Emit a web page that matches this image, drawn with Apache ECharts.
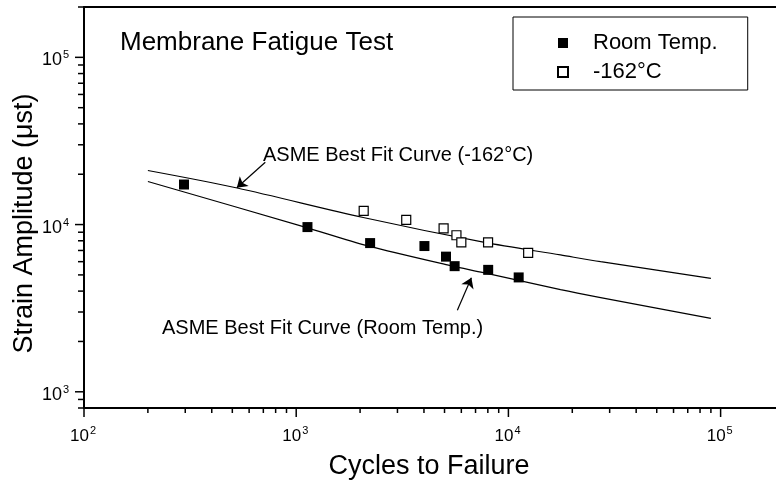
<!DOCTYPE html>
<html><head><meta charset="utf-8">
<script src="https://cdn.jsdelivr.net/npm/echarts@6/dist/echarts.min.js"></script>
<style>html,body{margin:0;padding:0;background:#fff}#c{width:776px;height:484px}</style>
</head><body><div id="c"></div>
<script>
// ---- data ----
const roomCycles = [296, 1130, 2230, 4020, 5080, 5580, 8030, 11180];
const roomStrain = [17360, 9660, 7750, 7440, 6430, 5640, 5360, 4830];
const coldCycles = [2080, 3300, 4950, 5690, 6000, 8020, 12390];
const coldStrain = [12080, 10670, 9500, 8630, 7830, 7830, 6780];

const roomFitCycles = [200, 1080, 2160, 5330, 7620, 17600, 27200, 90000];
const roomFitStrain = [18090, 9730, 7480, 5680, 5160, 4080, 3655, 2745];
const coldFitCycles = [200, 527, 2070, 7620, 17600, 27200, 90000];
const coldFitStrain = [21050, 16550, 11020, 7850, 6580, 6000, 4770];

const coldArrow = [[715, 23600], [525, 16590]];
const roomArrow = [[5746, 3076], [6692, 4815]];

const xMajorTicks = [100, 1000, 10000, 100000];
const yMajorTicks = [1000, 10000, 100000];
const xMinorTicks = [200,300,400,500,600,700,800,900,2000,3000,4000,5000,6000,7000,8000,9000,20000,30000,40000,50000,60000,70000,80000,90000];
const yMinorTicks = [800,900,2000,3000,4000,5000,6000,7000,8000,9000,20000,30000,40000,50000,60000,70000,80000,90000,200000];

const seriesNames = ['Room Temp.', '-162°C'];
const titleText = 'Membrane Fatigue Test';
const xTitle = 'Cycles to Failure';
const yTitle = 'Strain Amplitude (μst)';
const coldLabel = 'ASME Best Fit Curve (-162°C)';
const roomLabel = 'ASME Best Fit Curve (Room Temp.)';

const X_MIN = 100, X_MAX = 182400, Y_MIN = 800, Y_MAX = 200000;
// ---------------------------------------

const FONT = '"Liberation Sans", Arial, sans-serif';
const zip = (a, b) => a.map((v, i) => [v, b[i]]);

const chart = echarts.init(document.getElementById('c'), null, {renderer: 'canvas'});

const tickSeries = (data, dir, len) => ({
  type: 'custom', silent: true, clip: false, z: 5,
  data: data,
  renderItem: (params, api) => {
    const p = api.coord([api.value(0), api.value(1)]);
    const shape = dir === 'x'
      ? {x1: p[0], y1: p[1], x2: p[0], y2: p[1] + len}
      : {x1: p[0] - len, y1: p[1], x2: p[0], y2: p[1]};
    return {type: 'line', shape: shape, style: {stroke: '#000', lineWidth: 1.5}};
  }
});

// power-of-ten tick labels with a raised exponent
const powerLabelSeries = (data, dir) => ({
  type: 'custom', silent: true, clip: false, z: 6,
  data: data,
  renderItem: (params, api) => {
    const v = dir === 'x' ? api.value(0) : api.value(1);
    const p = api.coord([api.value(0), api.value(1)]);
    const e = String(Math.round(Math.log10(v)));
    let base, sup;
    if (dir === 'x') {
      base = {x: p[0] + 5, y: p[1] + 28, size: 17};
      sup = {x: p[0] + 6, y: p[1] + 23};
    } else {
      base = {x: p[0] - 22, y: p[1] + 3, size: 18};
      sup = {x: p[0] - 21, y: p[1] - 2};
    }
    return {
      type: 'group',
      children: [
        {type: 'text', x: base.x, y: base.y,
         style: {text: '10', font: base.size + 'px ' + FONT, fill: '#000', align: 'right', verticalAlign: 'middle'}},
        {type: 'text', x: sup.x, y: sup.y,
         style: {text: e, font: '11px ' + FONT, fill: '#000', align: 'left', verticalAlign: 'middle'}}
      ]
    };
  }
});

chart.setOption({
  animation: false,
  backgroundColor: '#fff',
  textStyle: {fontFamily: FONT, color: '#000'},
  grid: {left: 84, right: 0, top: 7, bottom: 76, containLabel: false},
  xAxis: [{
    type: 'log', logBase: 10, min: X_MIN, max: X_MAX,
    axisLine: {show: true, onZero: false, lineStyle: {color: '#000', width: 2}},
    axisTick: {show: false}, minorTick: {show: false},
    splitLine: {show: false}, axisLabel: {show: false}
  }, {
    type: 'log', logBase: 10, min: X_MIN, max: X_MAX, position: 'top',
    axisLine: {show: true, onZero: false, lineStyle: {color: '#000', width: 2}},
    axisTick: {show: false}, axisLabel: {show: false}, splitLine: {show: false}
  }],
  yAxis: {
    type: 'log', logBase: 10, min: Y_MIN, max: Y_MAX,
    axisLine: {show: true, onZero: false, lineStyle: {color: '#000', width: 2}},
    axisTick: {show: false}, splitLine: {show: false}, axisLabel: {show: false}
  },
  legend: {
    data: seriesNames.map(n => ({name: n, icon: 'rect'})),
    orient: 'vertical', left: 513, top: 17,
    padding: [15, 30, 7, 44], itemGap: 7,
    itemWidth: 10, itemHeight: 10,
    borderColor: '#000', borderWidth: 1,
    selectedMode: false,
    textStyle: {fontSize: 22, color: '#000', fontFamily: FONT, padding: [0, 0, 0, 20]}
  },
  graphic: [
    {type: 'text', left: 120, top: 30, z: 10,
     style: {text: titleText, font: '26px ' + FONT, fill: '#000'}},
    {type: 'text', x: 429, y: 467, z: 10,
     style: {text: xTitle, font: '27px ' + FONT, fill: '#000', align: 'center', verticalAlign: 'middle'}},
    {type: 'text', x: 25, y: 223.5, rotation: Math.PI / 2, z: 10,
     style: {text: yTitle, font: '27px ' + FONT, fill: '#000', align: 'center', verticalAlign: 'middle'}},
    {type: 'text', x: 263, y: 155, z: 10,
     style: {text: coldLabel, font: '20px ' + FONT, fill: '#000', align: 'left', verticalAlign: 'middle'}},
    {type: 'text', x: 162, y: 328.5, z: 10,
     style: {text: roomLabel, font: '20px ' + FONT, fill: '#000', align: 'left', verticalAlign: 'middle'}}
  ],
  series: [
    {
      name: 'coldFit', type: 'line', smooth: 0.3, showSymbol: false, silent: true,
      data: zip(coldFitCycles, coldFitStrain),
      lineStyle: {color: '#000', width: 1.2}, z: 2
    },
    {
      name: 'roomFit', type: 'line', smooth: 0.3, showSymbol: false, silent: true,
      data: zip(roomFitCycles, roomFitStrain),
      lineStyle: {color: '#000', width: 1.2}, z: 2,
      markLine: {
        silent: true, symbol: ['none', 'arrow'], symbolSize: 10,
        label: {show: false},
        itemStyle: {color: '#000'},
        lineStyle: {color: '#000', width: 1.2, type: 'solid'},
        data: [
          [{coord: coldArrow[0]}, {coord: coldArrow[1]}],
          [{coord: roomArrow[0]}, {coord: roomArrow[1]}]
        ]
      }
    },
    {
      name: seriesNames[0], type: 'scatter', symbol: 'rect', symbolSize: 10,
      data: zip(roomCycles, roomStrain),
      itemStyle: {color: '#000', opacity: 1}, z: 4
    },
    {
      name: seriesNames[1], type: 'scatter', symbol: 'rect', symbolSize: 9,
      data: zip(coldCycles, coldStrain),
      itemStyle: {color: '#fff', borderColor: '#000', borderWidth: 1.2, opacity: 1}, z: 4
    },
    tickSeries(xMinorTicks.map(v => [v, Y_MIN]), 'x', 5),
    tickSeries(xMajorTicks.map(v => [v, Y_MIN]), 'x', 9),
    tickSeries(yMinorTicks.map(v => [X_MIN, v]), 'y', 6),
    tickSeries(yMajorTicks.map(v => [X_MIN, v]), 'y', 9),
    powerLabelSeries(xMajorTicks.map(v => [v, Y_MIN]), 'x'),
    powerLabelSeries(yMajorTicks.map(v => [X_MIN, v]), 'y')
  ]
});
</script>
</body></html>
